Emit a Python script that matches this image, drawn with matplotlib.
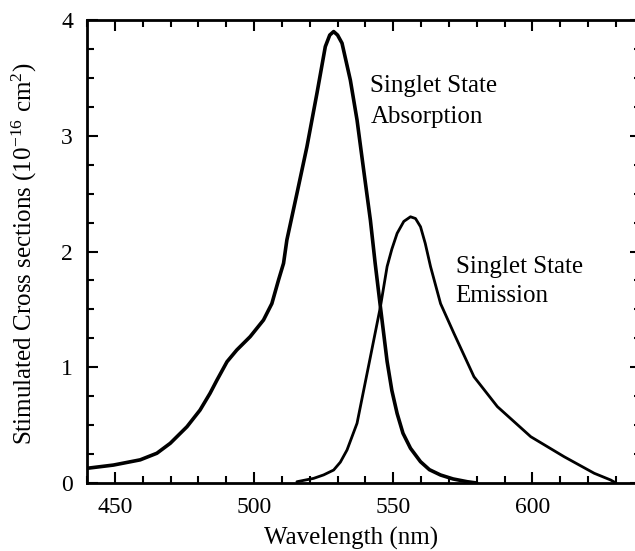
import matplotlib
matplotlib.use("Agg")
import matplotlib.pyplot as plt
from matplotlib.ticker import MultipleLocator

plt.rcParams['font.family'] = ['Liberation Serif', 'DejaVu Serif']
plt.rcParams['mathtext.fontset'] = 'stix'

# singlet state absorption (nm, 1e-16 cm^2)
abs_wl = [440, 449.5, 459.1, 465.1, 469.9, 475.9, 480.6, 484.2, 486.7, 490.3, 493.8, 498.6,
          503.4, 506.4, 508.8, 510.6, 511.8, 515.4, 519.0, 522.6, 525.6, 527.2, 528.6, 530.0,
          531.6, 534.6, 537.0, 539.4, 541.8, 543.5, 545.4, 547.8, 549.5, 551.4, 553.5, 556.2,
          559.8, 563.0, 567.0, 571.5, 576.6, 580]
abs_val = [0.127, 0.155, 0.20, 0.257, 0.343, 0.486, 0.63, 0.775, 0.89, 1.048, 1.149, 1.264,
           1.408, 1.55, 1.754, 1.898, 2.10, 2.50, 2.905, 3.367, 3.77, 3.87, 3.90, 3.87,
           3.80, 3.48, 3.136, 2.70, 2.27, 1.90, 1.52, 1.05, 0.80, 0.60, 0.43, 0.30,
           0.184, 0.115, 0.069, 0.035, 0.011, 0.0]

# singlet state emission
em_wl = [515.4, 521.4, 525.0, 528.6, 531.0, 533.4, 537.0, 539.4, 541.8, 545.4, 547.8, 549.5,
         551.4, 553.8, 556.2, 558.0, 559.8, 561.5, 563.4, 567.0, 571.8, 579.0, 587.4, 599.4,
         611.4, 622.2, 628.1, 630]
em_val = [0.011, 0.04, 0.07, 0.112, 0.18, 0.285, 0.516, 0.803, 1.09, 1.523, 1.87, 2.02,
          2.157, 2.26, 2.30, 2.285, 2.214, 2.07, 1.87, 1.55, 1.293, 0.918, 0.66, 0.40,
          0.227, 0.084, 0.026, 0.0]

fig = plt.figure(figsize=(6.35, 5.51), dpi=100)
ax = fig.add_axes([87 / 635, 68 / 551, 554 / 635, 463 / 551])

ax.plot(abs_wl, abs_val, color='black', lw=2.6, solid_joinstyle='round', solid_capstyle='round')
ax.plot(em_wl, em_val, color='black', lw=2.0, solid_joinstyle='round', solid_capstyle='round')

ax.set_xlim(440, 639)
ax.set_ylim(0, 4)
ax.xaxis.set_major_locator(MultipleLocator(50))
ax.xaxis.set_minor_locator(MultipleLocator(10))
ax.yaxis.set_major_locator(MultipleLocator(1))
ax.yaxis.set_minor_locator(MultipleLocator(0.25))
ax.tick_params(which='both', direction='in', top=True, right=True, width=1.5, labelsize=17)
ax.tick_params(axis='x', which='both', pad=10)
ax.tick_params(axis='y', which='both', pad=10)
ax.tick_params(which='major', length=8)
ax.tick_params(which='minor', length=5)
for s in ax.spines.values():
    s.set_linewidth(2)

ax.set_xlabel('Wavelength (nm)', fontsize=18)
ax.xaxis.set_label_coords((351 - 87) / 554, -0.095)
ax.set_ylabel(r'Stimulated Cross sections (10$^{\mathregular{-16}}$ cm$^{\mathregular{2}}$)', fontsize=18)
ax.yaxis.set_label_coords(-0.086, 0.495)

ax.text(541.8, 3.38, 'Singlet State', fontsize=18, ha='left', va='baseline')
ax.text(541.8, 3.11, 'Absorption', fontsize=18, ha='left', va='baseline')
ax.text(572.4, 1.81, 'Singlet State', fontsize=18, ha='left', va='baseline')
ax.text(572.4, 1.56, 'Emission', fontsize=18, ha='left', va='baseline')

fig.savefig('out.png', dpi=100)
